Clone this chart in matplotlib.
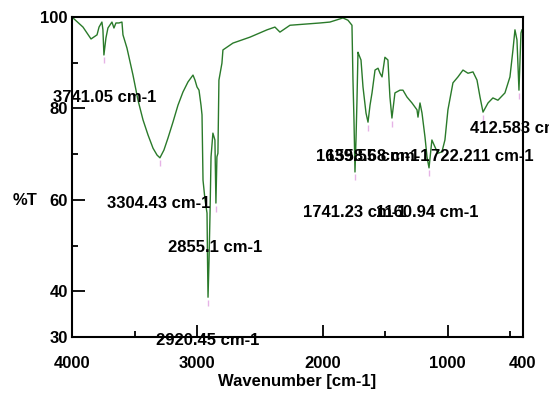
import numpy as np
import matplotlib
matplotlib.use('Agg')
import matplotlib.pyplot as plt
from matplotlib.ticker import FixedLocator

plt.rcParams['font.family'] = ['Liberation Sans', 'DejaVu Sans']
plt.rcParams['font.weight'] = 'bold'
plt.rcParams['font.size'] = 12

# FTIR spectrum (wavenumber cm-1, %T)
wavenumber = [3992, 3912, 3848, 3800, 3784, 3761, 3753, 3745, 3729, 3713,
              3681, 3665, 3649, 3625, 3601, 3593, 3561, 3513, 3473, 3433,
              3393, 3353, 3321, 3298, 3266, 3234, 3194, 3154, 3114, 3074,
              3034, 3018, 3002, 2986, 2970, 2962, 2954, 2938, 2922, 2918,
              2914, 2906, 2898, 2890, 2875, 2859, 2851, 2843, 2835, 2827,
              2803, 2795, 2715, 2579, 2443, 2380, 2340, 2260, 2020, 1941,
              1837, 1797, 1765, 1757, 1749, 1741, 1733, 1725, 1717, 1709,
              1693, 1677, 1653, 1637, 1621, 1605, 1581, 1557, 1541, 1525,
              1502, 1478, 1462, 1446, 1422, 1382, 1358, 1326, 1286, 1246,
              1238, 1222, 1206, 1182, 1166, 1150, 1127, 1103, 1079, 1047,
              1023, 999, 959, 919, 879, 839, 799, 767, 743, 719,
              679, 640, 600, 544, 504, 480, 464, 448, 432, 416, 408]
transmittance = [99.8, 97.8, 95.2, 96.1, 97.8, 98.9, 97.2, 91.7, 95.4, 97.6,
                 98.9, 97.6, 98.7, 98.7, 98.9, 96.1, 93.2, 87.3, 81.8, 77.5,
                 74.2, 71.3, 69.8, 69.2, 70.9, 73.5, 77.0, 80.7, 83.6, 85.8,
                 87.3, 86.2, 84.7, 84.0, 80.7, 78.6, 64.3, 60.0, 57.1, 46.8,
                 38.7, 46.8, 57.1, 69.4, 74.6, 73.1, 59.3, 69.4, 70.2, 86.2,
                 89.9, 92.8, 94.3, 95.6, 97.2, 97.8, 96.7, 98.2, 98.7, 98.9,
                 99.8, 99.3, 98.2, 86.2, 77.5, 66.1, 73.1, 81.8, 92.3, 91.7,
                 90.6, 84.7, 79.0, 77.0, 80.7, 83.4, 88.4, 88.8, 87.7, 86.9,
                 91.2, 90.6, 82.5, 77.9, 83.4, 84.0, 84.0, 82.5, 81.2, 79.7,
                 78.1, 81.2, 79.0, 73.7, 69.4, 67.0, 73.1, 71.6, 70.2, 70.5,
                 73.1, 79.7, 85.6, 86.9, 88.4, 87.7, 88.0, 86.2, 82.5, 79.2,
                 81.2, 82.3, 81.8, 83.4, 86.9, 92.8, 97.2, 95.0, 84.0, 96.5, 97.2]

# peak labels: position of label centre
peak_text = ['3741.05 cm-1', '3304.43 cm-1', '2855.1 cm-1', '2920.45 cm-1',
             '1741.23 cm-1', '1160.94 cm-1', '1639.55 cm-1', '1558.68 cm-1',
             '722.211 cm-1', '412.583 cm-1']
peak_x = [3741.05, 3304.43, 2855.1, 2920.45, 1741.23, 1160.94, 1639.55, 1558.68,
          722.211, 412.583]
peak_y = [82.3, 59.1, 49.5, 29.3, 57.3, 57.3, 69.4, 69.4, 69.4, 75.7]

# marked dips (small pink marks)
dip_x = [3745, 3298, 2914, 2851, 1741, 1637, 1446, 1150, 719, 432]
dip_y = [91.7, 69.2, 38.7, 59.3, 66.1, 77.0, 77.9, 67.0, 79.2, 84.0]

fig = plt.figure(figsize=(5.49, 3.96), dpi=100)
ax = fig.add_axes([0.1311, 0.149, 0.8215, 0.808])

ax.plot(wavenumber, transmittance, color='#2a7a2a', linewidth=1.0)
ax.plot(dip_x, np.array(dip_y) - 1.2, linestyle='none', marker='|',
        markersize=4, color='#e0a0e0', alpha=0.8)

for t, x, y in zip(peak_text, peak_x, peak_y):
    ax.annotate(t, (x, y), ha='center', va='center', fontsize=12,
                fontweight='bold', annotation_clip=False, clip_on=False)

ax.set_xlim(4000, 400)
ax.set_ylim(30, 100)
ax.xaxis.set_major_locator(FixedLocator([4000, 3000, 2000, 1000, 400]))
ax.xaxis.set_minor_locator(FixedLocator([3500, 1500, 500]))
ax.yaxis.set_major_locator(FixedLocator([30, 40, 60, 80, 100]))
ax.yaxis.set_minor_locator(FixedLocator([50, 70, 90]))
ax.tick_params(which='major', direction='in', length=9, width=1.3,
               labelsize=12)
ax.tick_params(axis='x', which='major', pad=14)
ax.tick_params(axis='y', which='major', pad=3)
ax.tick_params(which='minor', direction='in', length=4, width=1.3)
for lab in ax.get_xticklabels() + ax.get_yticklabels():
    lab.set_fontweight('bold')
for s in ax.spines.values():
    s.set_linewidth(1.5)

ax.set_xlabel('Wavenumber [cm-1]', fontsize=12, fontweight='bold', labelpad=2)
ax.set_ylabel('%T', fontsize=12, fontweight='bold', rotation=0, va='center')
ax.yaxis.set_label_coords(-0.105, 0.428)

fig.savefig('out.png', dpi=100)
